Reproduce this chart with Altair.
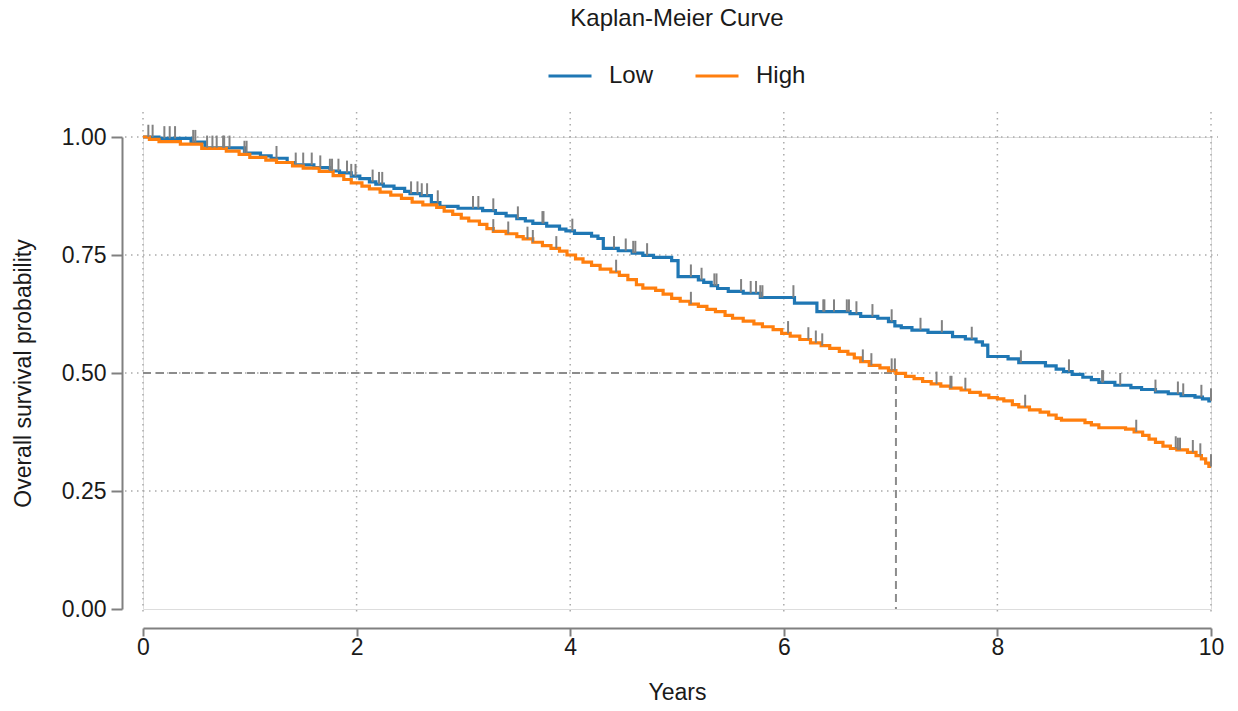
import bisect

import altair as alt
import pandas as pd

# Kaplan-Meier step estimates (time in years, survival probability)
low_t = [0.0, 0.15, 0.45, 0.58, 0.95, 1.1, 1.2, 1.35, 1.42, 1.6, 1.75, 1.84, 1.95,
         2.03, 2.12, 2.18, 2.25, 2.35, 2.45, 2.5, 2.6, 2.7, 2.78, 2.95, 3.18, 3.3,
         3.4, 3.5, 3.58, 3.65, 3.78, 3.9, 3.96, 4.04, 4.2, 4.26, 4.31, 4.45, 4.58,
         4.68, 4.78, 4.95, 5.01, 5.2, 5.25, 5.32, 5.38, 5.48, 5.62, 5.78, 6.1, 6.31,
         6.62, 6.72, 6.88, 6.98, 7.04, 7.1, 7.2, 7.35, 7.58, 7.7, 7.8, 7.86, 7.91,
         8.1, 8.2, 8.45, 8.55, 8.62, 8.7, 8.8, 8.88, 8.95, 9.1, 9.25, 9.35, 9.48,
         9.6, 9.72, 9.85, 9.92, 9.98, 10.0]
low_s = [1.0, 0.997, 0.989, 0.977, 0.966, 0.960, 0.955, 0.946, 0.941, 0.935, 0.928,
         0.924, 0.917, 0.912, 0.905, 0.900, 0.896, 0.891, 0.885, 0.880, 0.876, 0.861,
         0.853, 0.849, 0.844, 0.838, 0.833, 0.827, 0.822, 0.817, 0.811, 0.805, 0.801,
         0.796, 0.790, 0.785, 0.764, 0.759, 0.754, 0.749, 0.745, 0.738, 0.704, 0.697,
         0.692, 0.685, 0.679, 0.673, 0.669, 0.660, 0.648, 0.630, 0.626, 0.620, 0.616,
         0.609, 0.600, 0.596, 0.591, 0.586, 0.577, 0.572, 0.566, 0.559, 0.535, 0.530,
         0.522, 0.515, 0.508, 0.503, 0.497, 0.491, 0.486, 0.480, 0.474, 0.469, 0.465,
         0.460, 0.456, 0.452, 0.449, 0.445, 0.441, 0.441]

high_t = [0.0, 0.06, 0.15, 0.35, 0.55, 0.78, 0.9, 1.0, 1.15, 1.25, 1.4, 1.5, 1.65,
          1.78, 1.88, 1.95, 2.05, 2.12, 2.22, 2.32, 2.42, 2.52, 2.62, 2.75, 2.82, 2.9,
          2.98, 3.05, 3.15, 3.22, 3.28, 3.4, 3.5, 3.56, 3.65, 3.74, 3.82, 3.9, 3.97,
          4.05, 4.12, 4.2, 4.28, 4.38, 4.46, 4.54, 4.62, 4.68, 4.8, 4.87, 4.95, 5.03,
          5.12, 5.2, 5.28, 5.36, 5.45, 5.52, 5.62, 5.72, 5.8, 5.9, 5.98, 6.06, 6.15,
          6.25, 6.35, 6.43, 6.52, 6.6, 6.66, 6.72, 6.8, 6.9, 6.98, 7.05, 7.14, 7.22,
          7.3, 7.38, 7.47, 7.56, 7.66, 7.74, 7.84, 7.92, 8.0, 8.06, 8.14, 8.2, 8.3,
          8.4, 8.48, 8.55, 8.6, 8.82, 8.88, 8.95, 9.2, 9.28, 9.36, 9.42, 9.48, 9.55,
          9.62, 9.68, 9.78, 9.86, 9.91, 9.95, 9.98, 10.0]
high_s = [1.0, 0.995, 0.990, 0.985, 0.976, 0.970, 0.963, 0.957, 0.951, 0.946, 0.939,
          0.934, 0.927, 0.918, 0.910, 0.903, 0.896, 0.890, 0.883, 0.877, 0.870, 0.862,
          0.856, 0.851, 0.843, 0.836, 0.828, 0.822, 0.815, 0.806, 0.800, 0.795, 0.789,
          0.784, 0.777, 0.770, 0.764, 0.758, 0.750, 0.742, 0.735, 0.728, 0.720, 0.714,
          0.707, 0.698, 0.687, 0.680, 0.675, 0.667, 0.658, 0.652, 0.646, 0.641, 0.635,
          0.630, 0.622, 0.616, 0.610, 0.604, 0.598, 0.592, 0.584, 0.578, 0.571, 0.564,
          0.558, 0.552, 0.546, 0.540, 0.532, 0.524, 0.516, 0.511, 0.505, 0.499, 0.493,
          0.488, 0.482, 0.477, 0.472, 0.468, 0.464, 0.459, 0.453, 0.448, 0.445, 0.441,
          0.433, 0.428, 0.422, 0.417, 0.411, 0.404, 0.400, 0.395, 0.390, 0.384, 0.381,
          0.375, 0.368, 0.360, 0.353, 0.345, 0.340, 0.337, 0.332, 0.325, 0.318, 0.309,
          0.302, 0.302]

# Censoring times
low_censor = [0.05, 0.09, 0.2, 0.25, 0.3, 0.47, 0.49, 0.6, 0.65, 0.69, 0.75, 0.76,
              0.81, 0.95, 0.97, 1.25, 1.43, 1.5, 1.58, 1.66, 1.75, 1.77, 1.83, 1.91,
              1.95, 1.99, 2.15, 2.21, 2.24, 2.51, 2.57, 2.61, 2.66, 2.76, 3.09, 3.14,
              3.28, 3.51, 3.74, 3.75, 4.02, 4.41, 4.52, 4.59, 4.61, 4.72, 5.13, 5.23,
              5.35, 5.37, 5.6, 5.69, 5.74, 5.78, 5.8, 6.09, 6.37, 6.38, 6.47, 6.59,
              6.61, 6.68, 6.83, 7.01, 7.28, 7.48, 7.76, 8.22, 8.67, 8.98, 8.99, 9.15,
              9.48, 9.69, 9.74, 9.91, 10.0]
high_censor = [3.28, 3.42, 3.6, 3.65, 3.87, 4.43, 5.13, 6.04, 6.23, 6.3, 6.36, 6.74,
               6.82, 7.01, 7.04, 7.43, 7.56, 7.57, 7.7, 8.26, 9.3, 9.67, 9.69, 9.71,
               9.83, 9.9, 10.0]

median_high = 7.05
groups = ["Low", "High"]
colors = ["#1f77b4", "#ff7f0e"]
x_ticks = [0, 2, 4, 6, 8, 10]
y_ticks = [0.0, 0.25, 0.5, 0.75, 1.0]
grid_y = [0.25, 0.5, 0.75, 1.0]

FONT = "Liberation Sans"
TEXT = "#1a1a1a"
AXIS_GREY = "#808080"
W, H = 1068, 472


def surv_at(ts, ss, t):
    i = bisect.bisect_right(ts, t) - 1
    return ss[max(i, 0)]


curves = pd.concat([
    pd.DataFrame({"group": "Low", "time": low_t, "surv": low_s}),
    pd.DataFrame({"group": "High", "time": high_t, "surv": high_s}),
])
censor = pd.DataFrame(
    [{"group": "Low", "time": t, "surv": surv_at(low_t, low_s, t)} for t in low_censor]
    + [{"group": "High", "time": t, "surv": surv_at(high_t, high_s, t)} for t in high_censor]
)

x_scale = alt.Scale(domain=[0, 10], nice=False, zero=False)
y_scale = alt.Scale(domain=[0, 1], nice=False)
x_axis = alt.Axis(values=x_ticks, format="d", title="Years", grid=False, offset=19,
                  domainColor=AXIS_GREY, domainWidth=2, tickColor=AXIS_GREY, tickWidth=2,
                  tickSize=8, labelPadding=0, labelFlush=False, labelFontSize=23,
                  titleFontSize=23, titleFontWeight="normal", titlePadding=22,
                  labelFont=FONT, titleFont=FONT, labelColor=TEXT, titleColor=TEXT)
y_axis = alt.Axis(values=y_ticks, format=".2f", title="Overall survival probability",
                  grid=False, offset=21, domainColor=AXIS_GREY, domainWidth=2,
                  tickColor=AXIS_GREY, tickWidth=2, tickSize=11, labelPadding=5,
                  labelFontSize=23, titleFontSize=23, titleFontWeight="normal",
                  titlePadding=26, labelFont=FONT, titleFont=FONT, labelColor=TEXT,
                  titleColor=TEXT)

# dotted reference grid, running slightly past the axis range
vgrid = alt.Chart(pd.DataFrame({"time": x_ticks})).mark_rule(
    color="#ababab", strokeWidth=1.5, strokeDash=[1.5, 4.5]
).encode(
    x=alt.X("time:Q", scale=x_scale, axis=x_axis),
    y=alt.value(-25), y2=alt.value(H + 6),
)
hgrid = alt.Chart(pd.DataFrame({"surv": grid_y})).mark_rule(
    color="#ababab", strokeWidth=1.5, strokeDash=[1.5, 4.5]
).encode(
    y=alt.Y("surv:Q", scale=y_scale, axis=y_axis),
    x=alt.value(-18), x2=alt.value(W + 7),
)

# median survival of the High group
med = pd.DataFrame({"x0": [0.0, median_high], "x1": [median_high, median_high],
                    "y0": [0.5, 0.5], "y1": [0.5, 0.0]})
median_lines = alt.Chart(med).mark_rule(
    color="#8c8c8c", strokeWidth=2, strokeDash=[8, 5]
).encode(
    x=alt.X("x0:Q", scale=x_scale, axis=x_axis), x2="x1:Q",
    y=alt.Y("y0:Q", scale=y_scale, axis=y_axis), y2="y1:Q",
)

lines = alt.Chart(curves).mark_line(interpolate="step-after", strokeWidth=3.2).encode(
    x=alt.X("time:Q", scale=x_scale, axis=x_axis),
    y=alt.Y("surv:Q", scale=y_scale, axis=y_axis),
    color=alt.Color("group:N", scale=alt.Scale(domain=groups, range=colors),
                    sort=groups,
                    legend=alt.Legend(title=None, orient="none", legendX=404, legendY=-84,
                                      direction="horizontal", symbolType="stroke",
                                      symbolSize=1849, symbolStrokeWidth=3,
                                      labelFontSize=24, labelFont=FONT, labelColor=TEXT,
                                      labelOffset=16, columnPadding=35)),
    detail="group:N",
    order=alt.Order("time:Q"),
)

ticks = alt.Chart(censor).transform_calculate(top="datum.surv + 0.026").mark_rule(
    color="#828282", strokeWidth=2
).encode(
    x=alt.X("time:Q", scale=x_scale, axis=x_axis),
    y=alt.Y("surv:Q", scale=y_scale, axis=y_axis), y2="top:Q",
)

chart = alt.layer(vgrid, hgrid, median_lines, lines, ticks).properties(
    width=W, height=H,
    title=alt.TitleParams("Kaplan-Meier Curve", fontSize=24, fontWeight="normal",
                          font=FONT, color=TEXT, anchor="middle", offset=22),
    autosize=alt.AutoSizeParams(type="none"),
    padding={"left": 143, "top": 137, "right": 27, "bottom": 102},
).configure_view(stroke=None).configure(background="white")

chart.save("out.html", embed_options={"renderer": "svg", "actions": False})
